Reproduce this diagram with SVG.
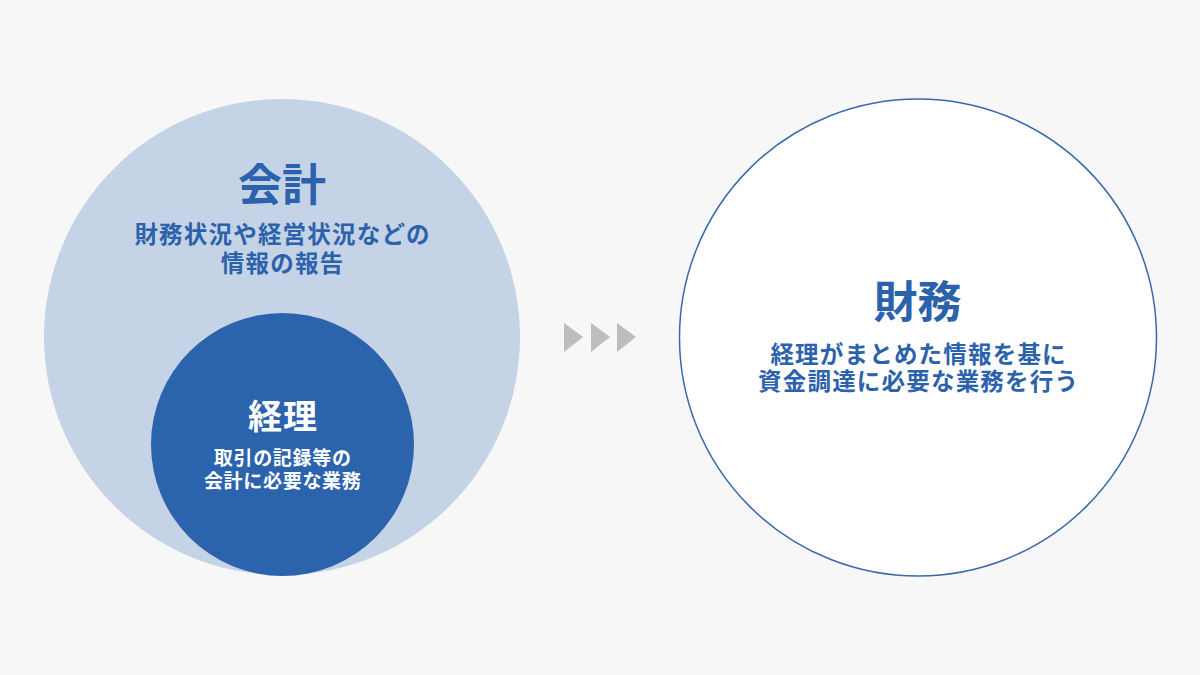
<svg xmlns="http://www.w3.org/2000/svg" width="1200" height="675" viewBox="0 0 1200 675">
<style>
.t{font-family:"Noto Sans CJK JP","Noto Sans CJK SC",sans-serif;font-weight:700;text-anchor:middle}
.b{fill:#2c62ab}
.w{fill:#ffffff}
.h{font-size:44px;letter-spacing:0px}
.s{font-size:23.5px;letter-spacing:1.2px}
.hs{font-size:34px;letter-spacing:1px}
.ss{font-size:19px;letter-spacing:0.7px}
.arr{fill:#bdbdbd}
</style>
<rect width="1200" height="675" fill="#f7f7f7"/>
<g id="kaikei">
<circle cx="282" cy="337" r="238" fill="#c5d3e6"/>
<text class="t b h" x="282" y="201">会計</text>
<text class="t b s" x="282.6" y="243">財務状況や経営状況などの</text>
<text class="t b s" x="282.6" y="272">情報の報告</text>
</g>
<g id="keiri">
<circle cx="282.5" cy="444.5" r="131.5" fill="#2c63ad"/>
<text class="t w hs" x="283" y="429">経理</text>
<text class="t w ss" x="282.7" y="465">取引の記録等の</text>
<text class="t w ss" x="282.7" y="488">会計に必要な業務</text>
</g>
<g id="connectors">
<polygon class="arr" points="564,323 583,337 564,352"/>
<polygon class="arr" points="591,323 610,337 591,352"/>
<polygon class="arr" points="617,323 636,337 617,352"/>
</g>
<g id="zaimu">
<circle cx="918" cy="337.5" r="238.5" fill="#ffffff" stroke="#3a69ab" stroke-width="1.5"/>
<text class="t b h" x="917.5" y="318">財務</text>
<text class="t b s" x="918.6" y="363">経理がまとめた情報を基に</text>
<text class="t b s" x="918.6" y="390">資金調達に必要な業務を行う</text>
</g>
</svg>
